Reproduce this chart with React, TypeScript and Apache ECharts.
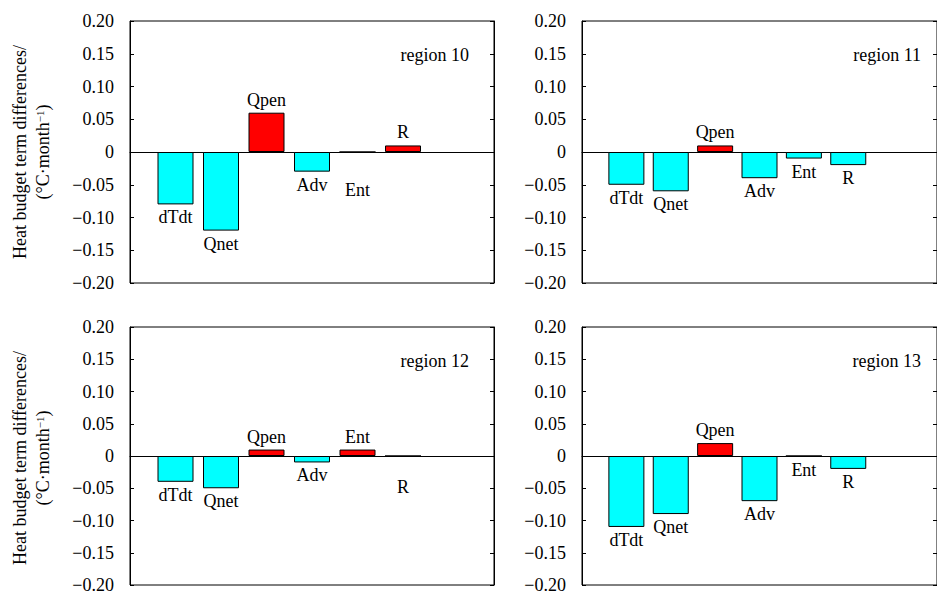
import React, { useEffect, useRef } from "react";
import * as echarts from "echarts";

const categories = ["dTdt", "Qnet", "Qpen", "Adv", "Ent", "R"];
const region10 = [-0.08, -0.12, 0.06, -0.03, 0, 0.01];
const region11 = [-0.05, -0.06, 0.01, -0.04, -0.01, -0.02];
const region12 = [-0.04, -0.05, 0.01, -0.01, 0.01, 0];
const region13 = [-0.11, -0.09, 0.02, -0.07, 0, -0.02];
const regionNames = ["region 10", "region 11", "region 12", "region 13"];
const yTicks = [-0.2, -0.15, -0.1, -0.05, 0, 0.05, 0.1, 0.15, 0.2];

// label nudges (pixels, extra drop below the zero line) for near-zero bars
const labelNudges: Record<string, Record<string, number>> = {
  "region 10": { Ent: 24 },
  "region 12": { R: 17 },
};

const FONT = '"Liberation Serif", "Times New Roman", serif';

export default function App() {
  const ref = useRef<HTMLDivElement>(null);
  useEffect(() => {
    document.body.style.margin = "0";
    const chart = echarts.init(ref.current!, null, { renderer: "svg" });
    const panels = [
      { name: regionNames[0], values: region10, left: 130, top: 21 },
      { name: regionNames[1], values: region11, left: 582, top: 21 },
      { name: regionNames[2], values: region12, left: 130, top: 327 },
      { name: regionNames[3], values: region13, left: 582, top: 327 },
    ];
    const W = 364;
    const H = 262;
    const grids: any[] = [];
    const xAxes: any[] = [];
    const yAxes: any[] = [];
    const series: any[] = [];
    const graphics: any[] = [];
    const fmt = (v: number) => {
      if (Math.abs(v) < 1e-9) return "0";
      return (v < 0 ? "\u2212" : "") + Math.abs(v).toFixed(2);
    };
    panels.forEach((p, i) => {
      grids.push({
        left: p.left,
        top: p.top,
        width: W,
        height: H,
        show: true,
        borderColor: "#000",
        borderWidth: 1,
        backgroundColor: "transparent",
      });
      xAxes.push({
        type: "value",
        gridIndex: i,
        min: 0,
        max: 8,
        axisLine: { show: true, onZero: true, lineStyle: { color: "#000", width: 1 } },
        axisTick: { show: false },
        axisLabel: { show: false },
        splitLine: { show: false },
      });
      const ymin = yTicks[0];
      const ymax = yTicks[yTicks.length - 1];
      yAxes.push({
        type: "value",
        gridIndex: i,
        position: "left",
        min: ymin,
        max: ymax,
        interval: 0.05,
        axisLine: { show: true, onZero: false, lineStyle: { color: "#000", width: 1 } },
        axisTick: { show: true, inside: true, length: 4, lineStyle: { color: "#000" } },
        axisLabel: {
          show: true,
          margin: 16,
          color: "#000",
          fontFamily: FONT,
          fontSize: 18,
          formatter: fmt,
        },
        splitLine: { show: false },
      });
      yAxes.push({
        type: "value",
        gridIndex: i,
        position: "right",
        min: ymin,
        max: ymax,
        interval: 0.05,
        axisLine: { show: true, onZero: false, lineStyle: { color: "#000", width: 1 } },
        axisTick: { show: true, inside: true, length: 4, lineStyle: { color: "#000" } },
        axisLabel: { show: false },
        splitLine: { show: false },
      });
      const nudges = labelNudges[p.name] || {};
      series.push({
        type: "bar",
        xAxisIndex: i,
        yAxisIndex: i * 2,
        barWidth: 36,
        data: p.values.map((v, k) => {
          const cat = categories[k];
          return {
            value: [k + 1, v],
            itemStyle: {
              color: v > 0 ? "#FF0000" : "#00FFFF",
              borderColor: "#000",
              borderWidth: 1,
            },
            label: {
              position: v > 0 ? "outside" : "bottom",
              offset: [0, nudges[cat] || 0],
            },
          };
        }),
        label: {
          show: true,
          distance: 4,
          color: "#000",
          fontFamily: FONT,
          fontSize: 18,
          formatter: (params: any) => categories[params.dataIndex],
        },
      });
      graphics.push({
        type: "text",
        x: p.left + W - 25,
        y: p.top + 34,
        style: {
          text: p.name,
          fill: "#000",
          font: `18px ${FONT}`,
          textAlign: "right",
          textVerticalAlign: "middle",
        },
      });
      if (p.left < 300) {
        const cy = p.top + H / 2;
        graphics.push({
          type: "text",
          x: 20,
          y: cy,
          rotation: Math.PI / 2,
          style: {
            text: "Heat budget term differences/",
            fill: "#000",
            font: `18px ${FONT}`,
            textAlign: "center",
            textVerticalAlign: "middle",
          },
        });
        graphics.push({
          type: "text",
          x: 43,
          y: cy,
          rotation: Math.PI / 2,
          style: {
            text: "(°C·month{sup|\u22121})",
            fill: "#000",
            font: `18px ${FONT}`,
            textAlign: "center",
            textVerticalAlign: "middle",
            rich: {
              sup: {
                fontSize: 11,
                fontFamily: FONT,
                fill: "#000",
                verticalAlign: "top",
                lineHeight: 18,
              },
            },
          },
        });
      }
    });
    chart.setOption({
      animation: false,
      backgroundColor: "#fff",
      grid: grids,
      xAxis: xAxes,
      yAxis: yAxes,
      series,
      graphic: graphics,
    });
    return () => chart.dispose();
  }, []);
  return <div ref={ref} style={{ width: 937, height: 594 }} />;
}
